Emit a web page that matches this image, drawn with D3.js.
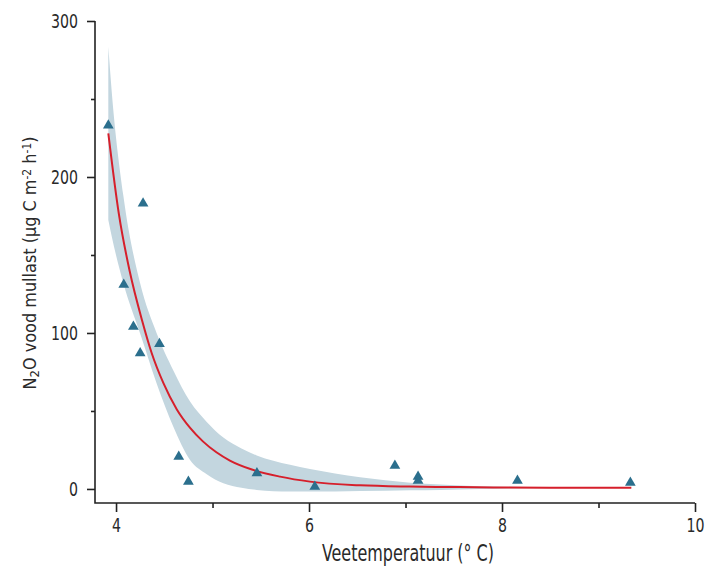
<!DOCTYPE html>
<html>
<head>
<meta charset="utf-8">
<script src="https://cdn.jsdelivr.net/npm/d3@7"></script>
<style>
  body { margin: 0; background: #fff; }
  svg text { font-family: "DejaVu Sans", sans-serif; font-stretch: condensed; fill: #2a2a2a; }
</style>
</head>
<body>
<div class="graph"></div>
<script>
// measured points
var tempX = [3.92, 4.28, 4.08, 4.18, 4.25, 4.45, 4.65, 4.75, 5.46, 6.06, 6.89, 7.13, 7.13, 8.16, 9.33]
var n2oY  = [233, 183, 131, 104, 87, 93, 20.7, 4.7, 10.1, 1.5, 14.9, 7.9, 5.3, 5.3, 4.0]

// fitted curve
var fitX = [3.92, 4.03, 4.14, 4.27, 4.37, 4.49, 4.63, 4.77, 4.9, 5.04, 5.18, 5.4, 5.70, 6.01, 6.53, 7.04, 7.56, 8.5, 9.34]
var fitY = [228, 176, 140, 108, 87, 68, 51, 39, 30.5, 23.5, 18.2, 12.6, 7.9, 4.7, 2.3, 1.5, 1.2, 0.8, 0.8]

// confidence band
var bandX     = [3.92, 3.955, 4.076, 4.249, 4.42, 4.594, 4.767, 4.94, 5.112, 5.3, 5.458, 5.803, 6.01, 6.53, 7.05, 7.36, 7.77, 8.5, 9.34]
var bandUpper = [283.5, 255, 188, 132, 100, 76, 56, 43, 33, 26, 21.5, 15.5, 12.8, 7.5, 4, 2.8, 1.7, 1.1, 0.9]
var bandLower = [172.4, 162, 131.9, 99.8, 67.8, 39.9, 18.6, 9.5, 3.7, 0.8, -0.6, -1.7, -1.7, -1.3, -0.8, -0.6, 0, 0.4, 0.6]

var xMajor = [4, 6, 8, 10]
var xMinor = [5, 7, 9]
var yMajor = [0, 100, 200, 300]
var yMinor = [50, 150, 250]

var w = 708
var h = 577

var svg = d3.select('.graph')
  .append("svg")
  .attr("width", w)
  .attr("height", h)

var x = d3.scaleLinear().domain([3.782, 10]).range([95, 695])
var y = d3.scaleLinear().domain([-9, 300]).range([503, 21])

// band
var band = bandX.map(function(d, i){ return [d, bandLower[i], bandUpper[i]] })
svg.append("path")
  .datum(band)
  .attr("fill", "#c3d6df")
  .attr("d", d3.area()
    .x(function(d){ return x(d[0]) })
    .y0(function(d){ return y(d[1]) })
    .y1(function(d){ return y(d[2]) })
    .curve(d3.curveMonotoneX))

// fitted line
var fit = fitX.map(function(d, i){ return [d, fitY[i]] })
svg.append("path")
  .datum(fit)
  .attr("fill", "none")
  .attr("stroke", "#d61f2b")
  .attr("stroke-width", 2)
  .attr("d", d3.line()
    .x(function(d){ return x(d[0]) })
    .y(function(d){ return y(d[1]) })
    .curve(d3.curveMonotoneX))

// points
svg.selectAll("path.pt")
  .data(tempX)
  .enter()
  .append("path")
  .attr("class", "pt")
  .attr("fill", "#2b6f8d")
  .attr("d", d3.symbol().type(d3.symbolTriangle).size(50))
  .attr("transform", function(d, i){
    return "translate(" + x(d) + "," + y(n2oY[i]) + ")"
  })

// axes
var styleAxis = function(g){
  g.selectAll("line").attr("stroke", "#222").attr("stroke-width", 1.6)
  g.select(".domain").remove()
}
var squeeze = function(sel){
  sel.attr("font-size", 20)
    .attr("fill", "#2a2a2a")
    .attr("textLength", function(d){ return String(d).length * 9 })
    .attr("lengthAdjust", "spacingAndGlyphs")
}

svg.append("g")
  .attr("transform", "translate(0,503)")
  .call(d3.axisBottom(x).tickValues(xMajor).tickSize(9).tickPadding(6).tickFormat(d3.format("d")))
  .call(styleAxis)
  .selectAll("text").call(squeeze)

svg.append("g")
  .attr("transform", "translate(0,503)")
  .call(d3.axisBottom(x).tickValues(xMinor).tickSize(5).tickFormat(""))
  .call(styleAxis)

svg.append("g")
  .attr("transform", "translate(95,0)")
  .call(d3.axisLeft(y).tickValues(yMajor).tickSize(8).tickPadding(9).tickFormat(d3.format("d")))
  .call(styleAxis)
  .selectAll("text").call(squeeze)

svg.append("g")
  .attr("transform", "translate(95,0)")
  .call(d3.axisLeft(y).tickValues(yMinor).tickSize(4).tickFormat(""))
  .call(styleAxis)

svg.append("path")
  .attr("d", "M95," + y(300) + "V503H" + x(10))
  .attr("fill", "none")
  .attr("stroke", "#222")
  .attr("stroke-width", 1.6)

// titles
svg.append("text")
  .attr("x", 408)
  .attr("y", 561)
  .attr("text-anchor", "middle")
  .attr("font-size", 23)
  .attr("textLength", 172)
  .attr("lengthAdjust", "spacingAndGlyphs")
  .text("Veetemperatuur (° C)")

var yt = svg.append("text")
  .attr("transform", "translate(36,263) rotate(-90)")
  .attr("text-anchor", "middle")
  .attr("font-size", 18)
  .attr("textLength", 253)
  .attr("lengthAdjust", "spacingAndGlyphs")
yt.append("tspan").text("N")
yt.append("tspan").attr("baseline-shift", "-25%").attr("font-size", 13).text("2")
yt.append("tspan").text("O vood mullast (µg C m")
yt.append("tspan").attr("baseline-shift", "45%").attr("font-size", 12).text("-2")
yt.append("tspan").text(" h")
yt.append("tspan").attr("baseline-shift", "45%").attr("font-size", 12).text("-1")
yt.append("tspan").text(")")
</script>
</body>
</html>
